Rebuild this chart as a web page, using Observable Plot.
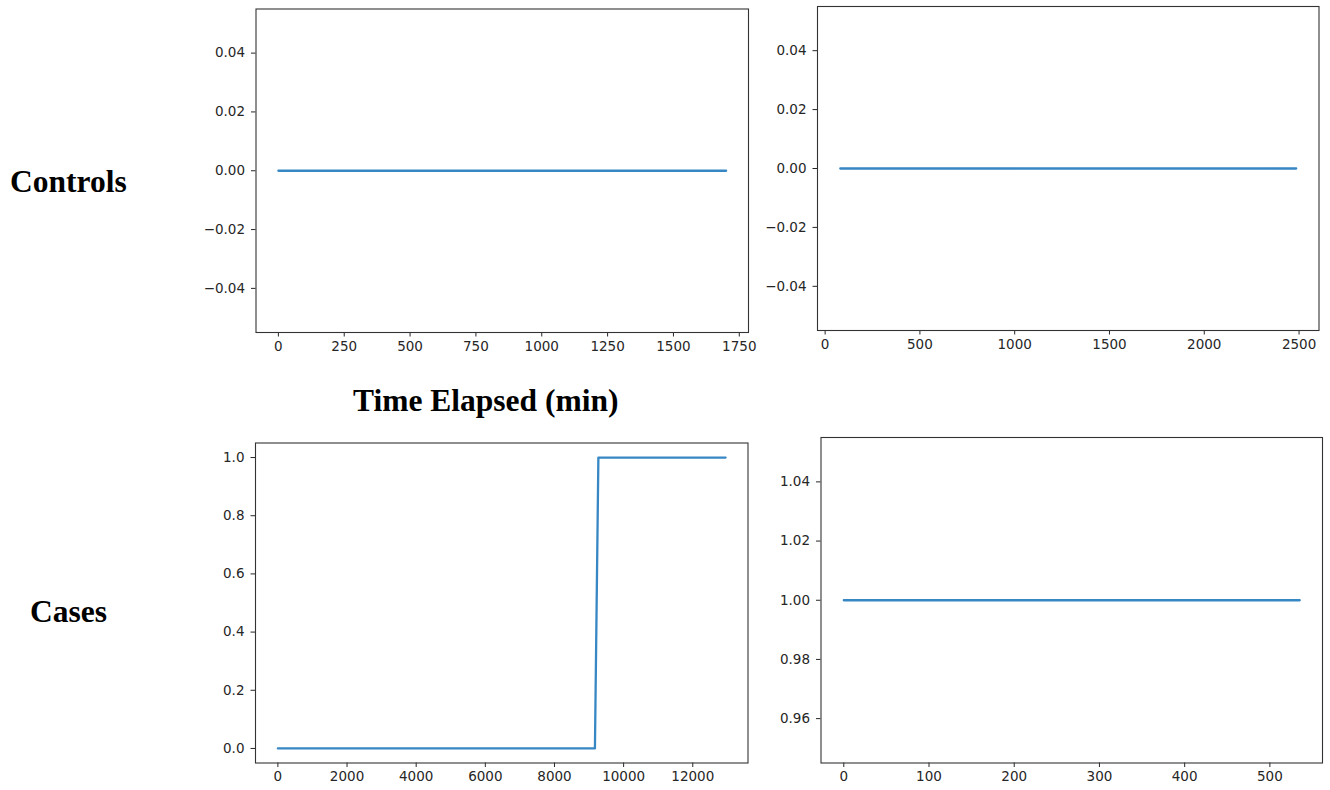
<!DOCTYPE html>
<html>
<head>
<meta charset="utf-8">
<script src="https://cdn.jsdelivr.net/npm/d3@7"></script>
<script src="https://cdn.jsdelivr.net/npm/@observablehq/plot@0.6"></script>
<style>
  html, body { margin: 0; padding: 0; background: #fff; }
  #page { position: relative; width: 1330px; height: 790px; overflow: hidden; background: #fff; }
  .panel { position: absolute; left: 0; top: 0; }
  .row-label {
    position: absolute;
    font-family: "Liberation Serif", "Times New Roman", serif;
    font-weight: bold;
    font-size: 31.5px;
    line-height: 31.5px;
    color: #000;
    white-space: nowrap;
  }
</style>
</head>
<body>
<div id="page">
  <div class="row-label" style="left:10px; top:166px;">Controls</div>
  <div class="row-label" style="left:353px; top:385px;">Time Elapsed (min)</div>
  <div class="row-label" style="left:30px; top:596px;">Cases</div>
</div>
<script>
// Time series (minutes elapsed vs. state)
const controlA_time = [0, 1700];
const controlA_value = [0, 0];
const controlB_time = [80, 2485];
const controlB_value = [0, 0];
const caseA_time = [0, 9170, 9270, 12950];
const caseA_value = [0, 0, 1, 1];
const caseB_time = [0, 535];
const caseB_value = [1, 1];

// Tick values
const controlA_xTicks = [0, 250, 500, 750, 1000, 1250, 1500, 1750];
const controlA_yTicks = [-0.04, -0.02, 0, 0.02, 0.04];
const controlB_xTicks = [0, 500, 1000, 1500, 2000, 2500];
const controlB_yTicks = [-0.04, -0.02, 0, 0.02, 0.04];
const caseA_xTicks = [0, 2000, 4000, 6000, 8000, 10000, 12000];
const caseA_yTicks = [0, 0.2, 0.4, 0.6, 0.8, 1.0];
const caseB_xTicks = [0, 100, 200, 300, 400, 500];
const caseB_yTicks = [0.96, 0.98, 1.00, 1.02, 1.04];

const W = 1330, H = 790;

// Axis limits: data extent with a 5% margin; a constant series is widened first.
function padded(values) {
  let [lo, hi] = d3.extent(values);
  if (lo === hi) {
    const e = lo === 0 ? 0.05 : Math.abs(lo) * 0.05;
    lo -= e; hi += e;
  }
  const m = (hi - lo) * 0.05;
  return [lo - m, hi + m];
}

function panel(xs, ys, xTicks, yTicks, yFormat, box) {
  const pts = d3.zip(xs, ys);
  return Plot.plot({
    width: W,
    height: H,
    marginLeft: box.x0,
    marginRight: W - box.x1,
    marginTop: box.y0,
    marginBottom: H - box.y1,
    style: {
      background: "transparent",
      fontFamily: "'DejaVu Sans', sans-serif",
      fontSize: "13.5px",
      color: "#262626",
      overflow: "visible"
    },
    x: { domain: padded(xs) },
    y: { domain: padded(ys) },
    marks: [
      Plot.line(pts, { x: d => d[0], y: d => d[1], stroke: "#3787c4", strokeWidth: 2.3 }),
      Plot.axisX({ ticks: xTicks, tickFormat: d3.format("d"), tickSize: 4.5, tickPadding: 4, label: null }),
      Plot.axisY({ ticks: yTicks, tickFormat: d3.format(yFormat), tickSize: 4.5, tickPadding: 6.5, label: null }),
      Plot.frame({ stroke: "#333", strokeWidth: 1.1 })
    ]
  });
}

const page = document.getElementById("page");
const panels = [
  panel(controlA_time, controlA_value, controlA_xTicks, controlA_yTicks, ".2f",
        { x0: 255.5, x1: 748, y0: 8.5, y1: 332 }),
  panel(controlB_time, controlB_value, controlB_xTicks, controlB_yTicks, ".2f",
        { x0: 817, x1: 1318.5, y0: 6, y1: 330 }),
  panel(caseA_time, caseA_value, caseA_xTicks, caseA_yTicks, ".1f",
        { x0: 255, x1: 747.5, y0: 442.5, y1: 762.5 }),
  panel(caseB_time, caseB_value, caseB_xTicks, caseB_yTicks, ".2f",
        { x0: 820.5, x1: 1322, y0: 437, y1: 762.5 })
];
for (const svg of panels) {
  const holder = document.createElement("div");
  holder.className = "panel";
  holder.appendChild(svg);
  page.appendChild(holder);
}
</script>
</body>
</html>
